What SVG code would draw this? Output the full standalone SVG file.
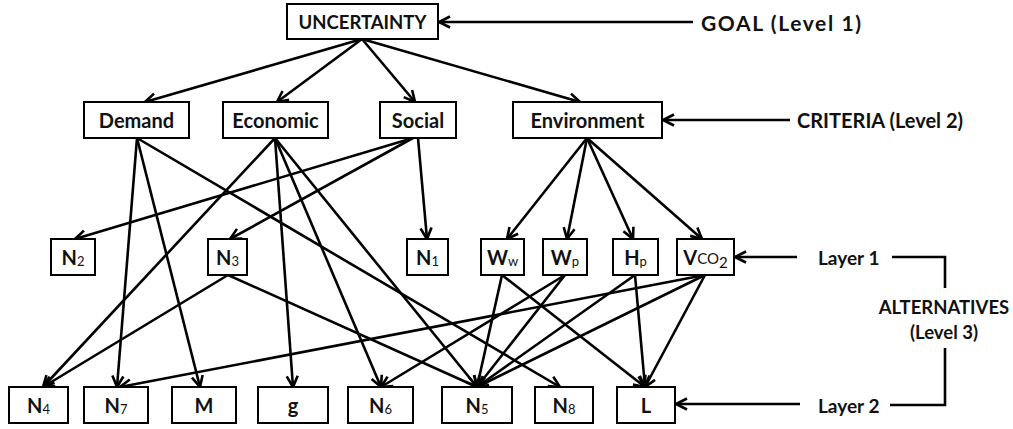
<svg xmlns="http://www.w3.org/2000/svg" width="1013" height="429" viewBox="0 0 1013 429">
<defs>
<marker id="ah" markerUnits="userSpaceOnUse" markerWidth="16" markerHeight="14" viewBox="0 0 16 14" refX="13" refY="7" orient="auto">
<path d="M2,1.5 L13,7 L2,12.5" fill="none" stroke="#000" stroke-width="2.6" stroke-linejoin="miter"/>
</marker>
<style>
.box{fill:#fff;stroke:#000;stroke-width:2}
.t{font-family:Lato,"Open Sans","Liberation Sans",sans-serif;font-weight:bold;font-size:20px;fill:#111;text-anchor:middle;dominant-baseline:central}
.lb{font-family:Lato,"Open Sans","Liberation Sans",sans-serif;font-weight:bold;font-size:20px;fill:#111;dominant-baseline:central}
.sub{font-size:13px;font-weight:normal}
.c line,.c path{stroke:#000;stroke-width:2.6;fill:none}
.c .a{marker-end:url(#ah)}
</style>
</defs>
<g class="c" id="connectors">
<line class="a" x1="362" y1="39" x2="145" y2="102"/>
<line class="a" x1="362" y1="39" x2="277" y2="102"/>
<line class="a" x1="362" y1="39" x2="415" y2="102"/>
<line class="a" x1="362" y1="39" x2="580" y2="102"/>
<line class="a" x1="137" y1="138" x2="117" y2="387"/>
<line class="a" x1="137" y1="138" x2="200" y2="387"/>
<line class="a" x1="137" y1="138" x2="560" y2="387"/>
<line class="a" x1="275" y1="138" x2="43" y2="387"/>
<line class="a" x1="275" y1="138" x2="293" y2="387"/>
<line class="a" x1="275" y1="138" x2="381" y2="387"/>
<line class="a" x1="275" y1="138" x2="477" y2="387"/>
<line class="a" x1="413" y1="138" x2="75" y2="239"/>
<line class="a" x1="413" y1="138" x2="230" y2="239"/>
<line class="a" x1="418" y1="138" x2="427" y2="239"/>
<line class="a" x1="587" y1="138" x2="507" y2="239"/>
<line class="a" x1="587" y1="138" x2="567" y2="239"/>
<line class="a" x1="587" y1="138" x2="633" y2="239"/>
<line class="a" x1="587" y1="138" x2="702" y2="239"/>
<line class="a" x1="228" y1="275" x2="43" y2="387"/>
<line class="a" x1="228" y1="275" x2="477" y2="387"/>
<line class="a" x1="502" y1="275" x2="477" y2="387"/>
<line class="a" x1="502" y1="275" x2="645" y2="387"/>
<line class="a" x1="565" y1="275" x2="381" y2="387"/>
<line class="a" x1="565" y1="275" x2="477" y2="387"/>
<line class="a" x1="635" y1="275" x2="477" y2="387"/>
<line class="a" x1="635" y1="275" x2="645" y2="387"/>
<line class="a" x1="705" y1="275" x2="120" y2="387"/>
<line class="a" x1="705" y1="275" x2="477" y2="387"/>
<line class="a" x1="705" y1="275" x2="645" y2="387"/>
<line class="a" x1="693" y1="22" x2="439" y2="22"/>
<line class="a" x1="790" y1="120" x2="663" y2="120"/>
<line class="a" x1="797" y1="257" x2="735" y2="257"/>
<line class="a" x1="800" y1="404" x2="676" y2="404"/>
<path d="M892,257 H945 V288"/>
<path d="M945,348 V405 H890"/>
</g>
<g id="n-uncertainty"><rect class="box" x="287" y="4" width="151" height="35"/><text class="t" x="362.5" y="22" style="font-size:18.5px">UNCERTAINTY</text></g>
<g id="n-demand"><rect class="box" x="84" y="102" width="105" height="36"/><text class="t" x="136.5" y="120">Demand</text></g>
<g id="n-economic"><rect class="box" x="223" y="102" width="105" height="36"/><text class="t" x="275.5" y="120">Economic</text></g>
<g id="n-social"><rect class="box" x="380" y="102" width="76" height="36"/><text class="t" x="418" y="120">Social</text></g>
<g id="n-environment"><rect class="box" x="513" y="102" width="149" height="36"/><text class="t" x="587.5" y="120">Environment</text></g>
<g id="n-n2"><rect class="box" x="51" y="239" width="44" height="36"/><text class="t" x="73" y="257">N<tspan class="sub" dy="4">2</tspan></text></g>
<g id="n-n3"><rect class="box" x="208" y="239" width="39" height="36"/><text class="t" x="227.5" y="257">N<tspan class="sub" dy="4">3</tspan></text></g>
<g id="n-n1"><rect class="box" x="407" y="239" width="41" height="36"/><text class="t" x="427.5" y="257">N<tspan class="sub" dy="4">1</tspan></text></g>
<g id="n-ww"><rect class="box" x="481" y="239" width="43" height="36"/><text class="t" x="502.5" y="257">W<tspan class="sub" dy="4">w</tspan></text></g>
<g id="n-wp"><rect class="box" x="543" y="239" width="44" height="36"/><text class="t" x="565" y="257">W<tspan class="sub" dy="4">p</tspan></text></g>
<g id="n-hp"><rect class="box" x="613" y="239" width="45" height="36"/><text class="t" x="635.5" y="257">H<tspan class="sub" dy="4">p</tspan></text></g>
<g id="n-vco2"><rect class="box" x="677" y="239" width="57" height="36"/><text class="t" x="705.5" y="257">V<tspan style="font-size:15px;font-weight:normal" dy="1">CO</tspan><tspan class="sub" style="font-size:15px" dy="4">2</tspan></text></g>
<g id="n-n4"><rect class="box" x="9" y="387" width="59" height="36"/><text class="t" x="38.5" y="405">N<tspan class="sub" dy="4">4</tspan></text></g>
<g id="n-n7"><rect class="box" x="84" y="387" width="64" height="36"/><text class="t" x="116" y="405">N<tspan class="sub" dy="4">7</tspan></text></g>
<g id="n-m"><rect class="box" x="172" y="387" width="64" height="36"/><text class="t" x="204" y="405">M</text></g>
<g id="n-g"><rect class="box" x="258" y="387" width="70" height="36"/><text class="t" x="293" y="405">g</text></g>
<g id="n-n6"><rect class="box" x="348" y="387" width="65" height="36"/><text class="t" x="380.5" y="405">N<tspan class="sub" dy="4">6</tspan></text></g>
<g id="n-n5"><rect class="box" x="442" y="387" width="70" height="36"/><text class="t" x="477" y="405">N<tspan class="sub" dy="4">5</tspan></text></g>
<g id="n-n8"><rect class="box" x="535" y="387" width="58" height="36"/><text class="t" x="564" y="405">N<tspan class="sub" dy="4">8</tspan></text></g>
<g id="n-l"><rect class="box" x="617" y="387" width="58" height="36"/><text class="t" x="646" y="405">L</text></g>
<g id="labels">
<text class="lb" x="701" y="22" style="font-size:21px" textLength="160" lengthAdjust="spacing">GOAL (Level 1)</text>
<text class="lb" x="797" y="120">CRITERIA (Level 2)</text>
<text class="lb" x="818" y="257" style="font-size:19px">Layer 1</text>
<text class="t" x="944" y="307" style="font-size:18.5px">ALTERNATIVES</text>
<text class="t" x="944" y="332" style="font-size:18.5px">(Level 3)</text>
<text class="lb" x="818" y="405" style="font-size:19px">Layer 2</text>
</g>
</svg>
